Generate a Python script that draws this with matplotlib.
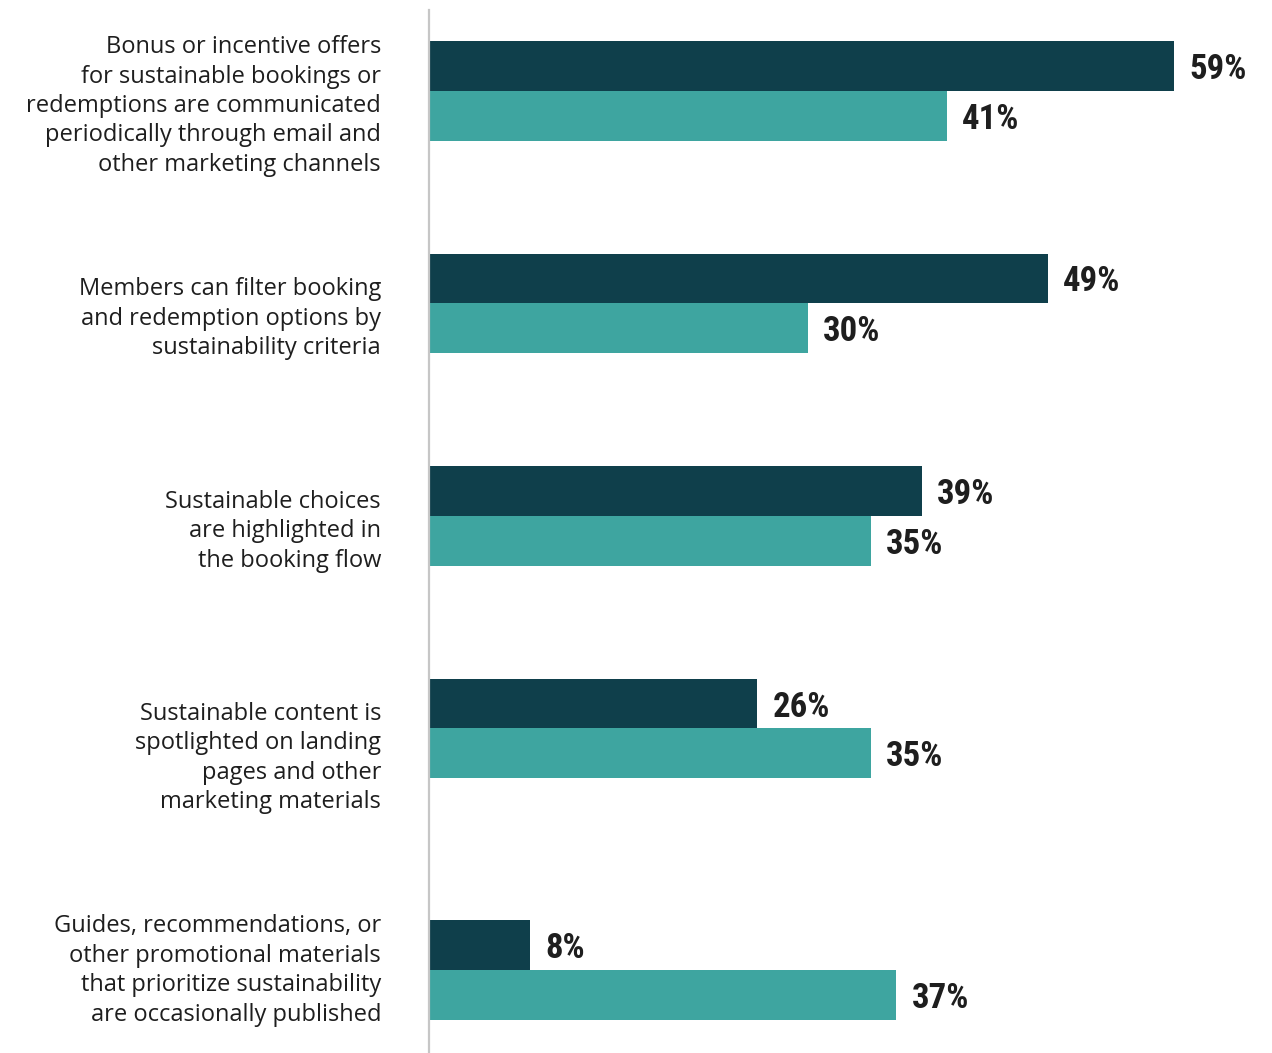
#!/usr/bin/env python3
"""Grouped horizontal bars: sustainability promotion tactics, two respondent groups."""

import matplotlib

matplotlib.use("Agg")
import matplotlib.pyplot as plt  # type: ignore
import numpy as np  # type: ignore
from matplotlib import font_manager  # type: ignore

categories = [
    "Bonus or incentive offers\nfor sustainable bookings or\nredemptions are communicated\nperiodically through email and\nother marketing channels",
    "Members can filter booking\nand redemption options by\nsustainability criteria",
    "Sustainable choices\nare highlighted in\nthe booking flow",
    "Sustainable content is\nspotlighted on landing\npages and other\nmarketing materials",
    "Guides, recommendations, or\nother promotional materials\nthat prioritize sustainability\nare occasionally published",
]
dark_values = [59, 49, 39, 26, 8]
teal_values = [41, 30, 35, 35, 37]

# group centres and label centres, in units of group spacing
group_pos = np.array([0.0, 1.0, 2.0, 3.0, 4.136])
label_pos = np.array([0.071, 1.071, 2.073, 3.139, 4.139])

DARK = "#0F3F4B"
TEAL = "#3EA5A0"
TEXT = "#1E1E1E"


def pick_condensed():
    """Return a narrow bold family if one is installed."""
    names = {f.name for f in font_manager.fontManager.ttflist}
    for name in ["Liberation Sans Narrow", "DejaVu Sans Condensed", "Roboto Condensed"]:
        if name in names:
            return name, "normal"
    return "DejaVu Sans", "condensed"


def main():
    fig = plt.figure(figsize=(12.72, 10.53), dpi=100)
    ax = fig.add_axes([429 / 1272, 0, 1 - 429 / 1272, 1])

    bar_h = 0.235
    ax.barh(group_pos - bar_h / 2, dark_values, height=bar_h, color=DARK)
    ax.barh(group_pos + bar_h / 2, teal_values, height=bar_h, color=TEAL)

    ax.set_xlim(0, 843 / 12.63)
    ax.set_ylim(4.527, -0.428)

    for spine in ["top", "right", "bottom"]:
        ax.spines[spine].set_visible(False)
    ax.spines["left"].set_color("#C6C6C6")
    ax.spines["left"].set_linewidth(1.6)
    ax.spines["left"].set_bounds(4.527, -0.381)
    ax.set_xticks([])
    ax.set_yticks([])

    for text, y in zip(categories, label_pos):
        ax.annotate(text, xy=(0, y), xytext=(-34.5, 0), textcoords="offset points",
                    ha="right", va="center", fontsize=17, family="Open Sans",
                    color=TEXT, linespacing=1.30, annotation_clip=False)

    fam, stretch = pick_condensed()
    for values, offset in [(dark_values, -bar_h / 2), (teal_values, bar_h / 2)]:
        for v, y in zip(values, group_pos + offset):
            ax.annotate(f"{v}%", xy=(v, y), xytext=(11, 0), textcoords="offset points",
                        ha="left", va="center_baseline", fontsize=25, family=fam,
                        fontstretch=stretch, fontweight="bold", color=TEXT)

    fig.savefig("out.png", dpi=100, facecolor="white")


if __name__ == "__main__":
    main()
